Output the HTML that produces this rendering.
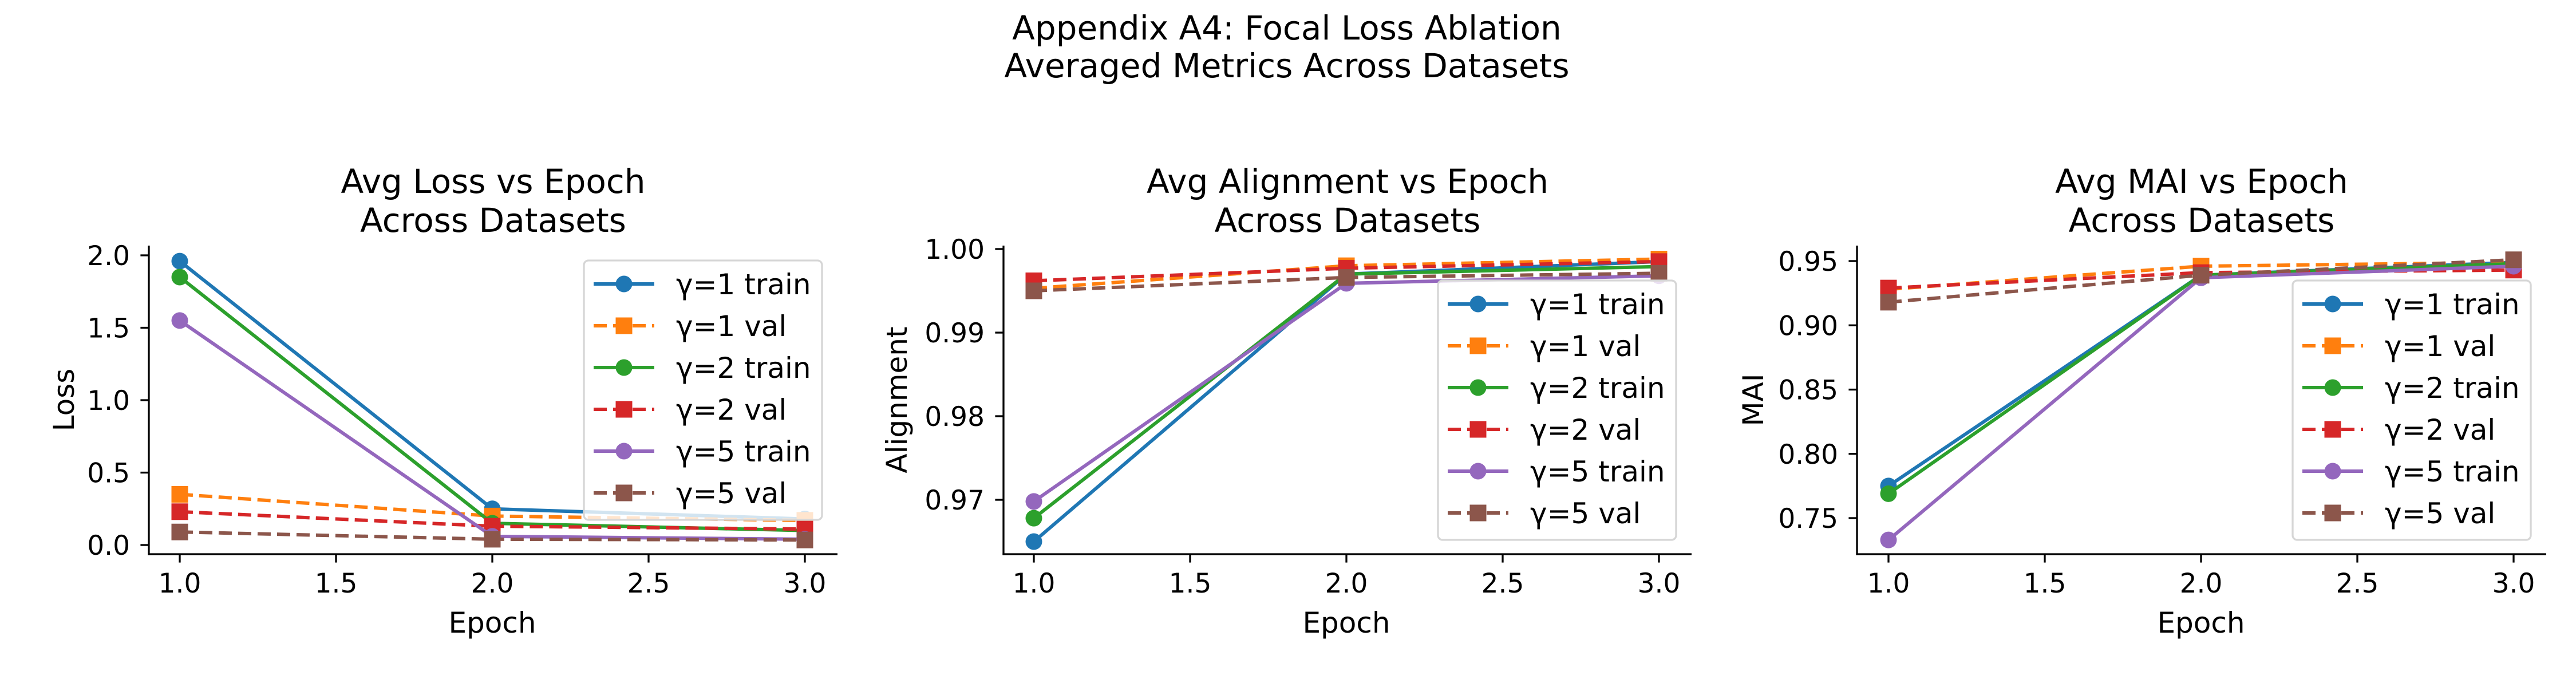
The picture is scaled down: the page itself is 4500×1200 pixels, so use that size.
<!DOCTYPE html>
<html><head><meta charset="utf-8"><style>
body{margin:0;background:#fff}
svg{display:block}
text{font-family:"DejaVu Sans","Liberation Sans",sans-serif;fill:#000}
</style></head><body>
<svg id="fig" width="4500" height="1200" viewBox="0 0 4500 1200" xmlns="http://www.w3.org/2000/svg">
<text x="2248" y="69" font-size="58" text-anchor="middle">Appendix A4: Focal Loss Ablation</text>
<text x="2248" y="135" font-size="58" text-anchor="middle">Averaged Metrics Across Datasets</text>
</svg>
<script>
const epochs = [1, 2, 3];
const seriesNames = ["γ=1 train","γ=1 val","γ=2 train","γ=2 val","γ=5 train","γ=5 val"];
const lossG1Train = [1.96, 0.25, 0.18];
const lossG1Val = [0.35, 0.20, 0.17];
const lossG2Train = [1.85, 0.15, 0.10];
const lossG2Val = [0.23, 0.13, 0.11];
const lossG5Train = [1.55, 0.06, 0.04];
const lossG5Val = [0.09, 0.04, 0.035];
const alignG1Train = [0.965, 0.997, 0.9985];
const alignG1Val = [0.9953, 0.998, 0.9988];
const alignG2Train = [0.9678, 0.997, 0.9979];
const alignG2Val = [0.9962, 0.9977, 0.9985];
const alignG5Train = [0.9698, 0.9959, 0.9968];
const alignG5Val = [0.995, 0.9966, 0.9971];
const maiG1Train = [0.775, 0.939, 0.949];
const maiG1Val = [0.928, 0.946, 0.949];
const maiG2Train = [0.769, 0.939, 0.948];
const maiG2Val = [0.929, 0.941, 0.943];
const maiG5Train = [0.733, 0.937, 0.946];
const maiG5Val = [0.918, 0.939, 0.951];
const xTicks = [1.0, 1.5, 2.0, 2.5, 3.0];
const xTickLabels = ["1.0","1.5","2.0","2.5","3.0"];
const lossTicks = [0, 0.5, 1.0, 1.5, 2.0];
const lossTickLabels = ["0.0","0.5","1.0","1.5","2.0"];
const alignTicks = [0.97, 0.98, 0.99, 1.00];
const alignTickLabels = ["0.97","0.98","0.99","1.00"];
const maiTicks = [0.75, 0.80, 0.85, 0.90, 0.95];
const maiTickLabels = ["0.75","0.80","0.85","0.90","0.95"];

const colors = ["#1f77b4","#ff7f0e","#2ca02c","#d62728","#9467bd","#8c564b"];
const NS = "http://www.w3.org/2000/svg";
const svg = document.getElementById('fig');
function mk(tag, attrs, parent){const e=document.createElementNS(NS,tag);for(const k in attrs)e.setAttribute(k,attrs[k]);(parent||svg).appendChild(e);return e;}

const panels = [
 {key:"loss", title:"Avg Loss vs Epoch", ylabel:"Loss", left:260, right:1463, x1:314, x3:1406,
  yv0:0, yp0:952, yv1:2.0, yp1:446, ticks:lossTicks, tickLabels:lossTickLabels,
  data:[lossG1Train,lossG1Val,lossG2Train,lossG2Val,lossG5Train,lossG5Val],
  leg:{x:1020,y:455,w:416,h:453}, ylabX:129},
 {key:"alignment", title:"Avg Alignment vs Epoch", ylabel:"Alignment", left:1753, right:2955, x1:1806, x3:2898,
  yv0:0.97, yp0:873, yv1:1.00, yp1:435, ticks:alignTicks, tickLabels:alignTickLabels,
  data:[alignG1Train,alignG1Val,alignG2Train,alignG2Val,alignG5Train,alignG5Val],
  leg:{x:2512,y:490,w:416,h:453}, ylabX:1584},
 {key:"mai", title:"Avg MAI vs Epoch", ylabel:"MAI", left:3244, right:4448, x1:3299, x3:4391,
  yv0:0.75, yp0:905, yv1:0.95, yp1:456, ticks:maiTicks, tickLabels:maiTickLabels,
  data:[maiG1Train,maiG1Val,maiG2Train,maiG2Val,maiG5Train,maiG5Val],
  leg:{x:4005,y:490,w:416,h:453}, ylabX:3080}
];
const TOP=429, BOT=968;

panels.forEach(p=>{
  const xs = v => p.x1 + (v-1)*(p.x3-p.x1)/2;
  const ys = v => p.yp0 + (v-p.yv0)*(p.yp1-p.yp0)/(p.yv1-p.yv0);
  const g = mk('g',{});
  
  
  const cx=(p.left+p.right)/2;
  let t=mk('text',{x:cx,y:337,'font-size':58,'text-anchor':'middle'},g);t.textContent=p.title;
  
  
  t=mk('text',{x:cx,y:405,'font-size':58,'text-anchor':'middle'},g);t.textContent="Across Datasets";
  
  
  p.data.forEach((arr,i)=>{
    const sg=mk('g',{},g);
    
    
    const pts=arr.map((v,j)=>xs(epochs[j])+','+ys(v)).join(' ');
    const line=mk('polyline',{points:pts,fill:'none',stroke:colors[i],'stroke-width':6,'stroke-linejoin':'round'},sg);
    if(i%2===1) line.setAttribute('stroke-dasharray','23 11');
    arr.forEach((v,j)=>{
      let m;
      if(i%2===0) m=mk('circle',{cx:xs(epochs[j]),cy:ys(v),r:14.5,fill:colors[i]},sg);
      else m=mk('rect',{x:xs(epochs[j])-14.5,y:ys(v)-14.5,width:29,height:29,fill:colors[i]},sg);
      
      
    });
  });
  let a=mk('line',{x1:p.left,y1:TOP,x2:p.left,y2:BOT+1.6,stroke:'#000','stroke-width':3.3},g);
  
  
  a=mk('line',{x1:p.left-1.6,y1:BOT,x2:p.right,y2:BOT,stroke:'#000','stroke-width':3.3},g);
  
  
  xTicks.forEach((v,k)=>{
    mk('line',{x1:xs(v),y1:BOT,x2:xs(v),y2:BOT+14.6,stroke:'#000','stroke-width':3.3},g);
    const tt=mk('text',{x:xs(v),y:1035,'font-size':47,'text-anchor':'middle'},g);tt.textContent=xTickLabels[k];
    
    
  });
  p.ticks.forEach((v,k)=>{
    mk('line',{x1:p.left,y1:ys(v),x2:p.left-14.6,y2:ys(v),stroke:'#000','stroke-width':3.3},g);
    const tt=mk('text',{x:p.left-33,y:ys(v)+17,'font-size':47,'text-anchor':'end'},g);tt.textContent=p.tickLabels[k];
    
    
  });
  t=mk('text',{x:(p.x1+p.x3)/2,y:1105,'font-size':50,'text-anchor':'middle'},g);t.textContent="Epoch";
  
  
  const ly=(TOP+BOT)/2;
  t=mk('text',{x:p.ylabX,y:ly,'font-size':50,'text-anchor':'middle',transform:`rotate(-90 ${p.ylabX} ${ly})`},g);t.textContent=p.ylabel;
  
  
  const L=p.leg;
  const lg=mk('g',{},g);
  
  
  mk('rect',{x:L.x,y:L.y,width:L.w,height:L.h,rx:8,fill:'#fff','fill-opacity':0.8,stroke:'#d6d6d6','stroke-width':3.3},lg);
  seriesNames.forEach((nm,i)=>{
    const yy=L.y+41+i*73;
    const e=mk('g',{},lg);
    
    
    const ln=mk('line',{x1:L.x+17,y1:yy,x2:L.x+123,y2:yy,stroke:colors[i],'stroke-width':6},e);
    if(i%2===1) ln.setAttribute('stroke-dasharray','23 11');
    if(i%2===0) mk('circle',{cx:L.x+70,cy:yy,r:14.5,fill:colors[i]},e);
    else mk('rect',{x:L.x+55.5,y:yy-14.5,width:29,height:29,fill:colors[i]},e);
    const tx=mk('text',{x:L.x+161,y:yy+18,'font-size':50},e);tx.textContent=nm;
  });
});
</script>
</body></html>
